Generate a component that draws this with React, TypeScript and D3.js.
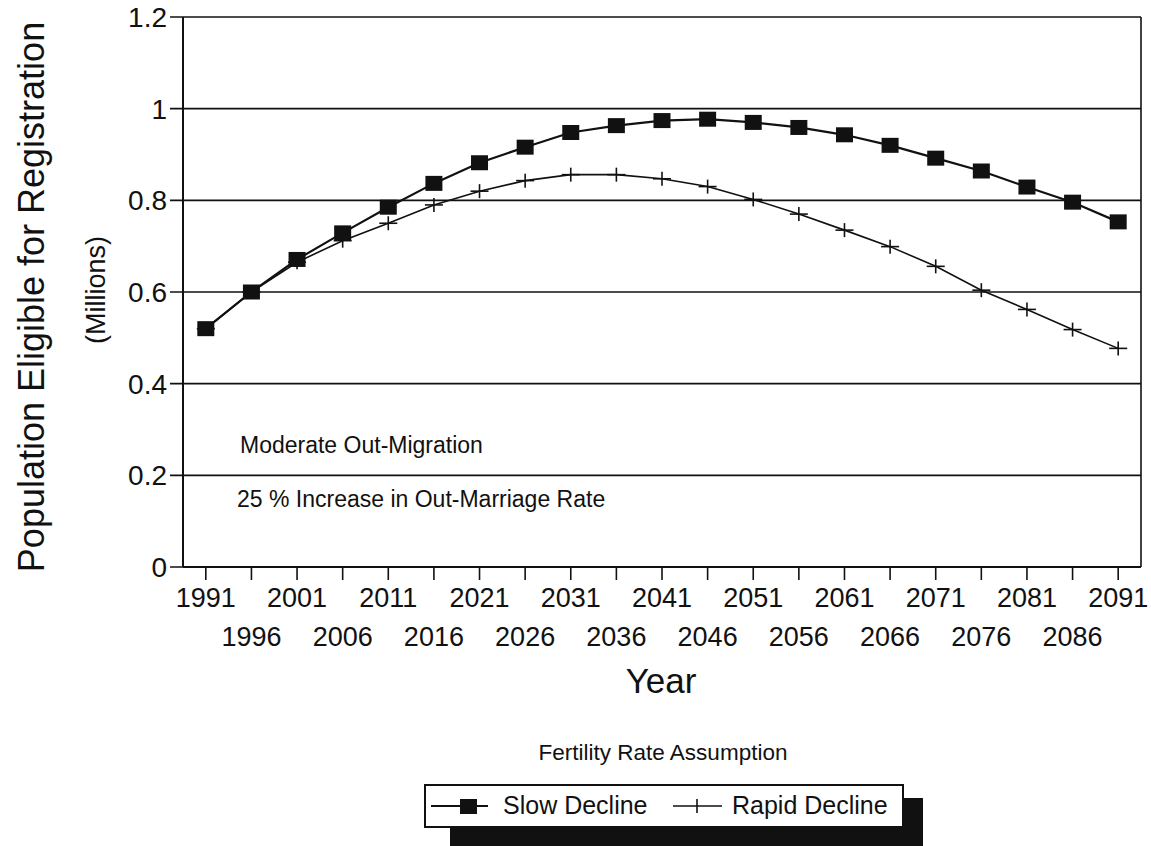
import React from 'react';
import * as d3 from 'd3';

// Years on the x axis (every 5 years)
const years = [
  1991, 1996, 2001, 2006, 2011, 2016, 2021, 2026, 2031, 2036, 2041,
  2046, 2051, 2056, 2061, 2066, 2071, 2076, 2081, 2086, 2091,
];

// Population eligible for registration (millions)
const slowDecline = [
  0.52, 0.6, 0.671, 0.729, 0.785, 0.837, 0.882, 0.916, 0.948, 0.963, 0.974,
  0.977, 0.97, 0.959, 0.943, 0.92, 0.892, 0.864, 0.829, 0.796, 0.753,
];
const rapidDecline = [
  0.52, 0.6, 0.665, 0.712, 0.75, 0.79, 0.82, 0.843, 0.856, 0.856, 0.847,
  0.83, 0.802, 0.77, 0.735, 0.699, 0.656, 0.604, 0.562, 0.518, 0.477,
];

const yTicks = [0, 0.2, 0.4, 0.6, 0.8, 1, 1.2];
const yTickLabels = ['0', '0.2', '0.4', '0.6', '0.8', '1', '1.2'];

const FONT = '"Liberation Sans", Arial, Helvetica, sans-serif';

const W = 1151;
const H = 846;
const plot = { left: 183, right: 1141, top: 17, bottom: 567 };

const App: React.FC = () => {
  const x = d3
    .scalePoint<number>()
    .domain(years)
    .range([plot.left, plot.right])
    .padding(0.5);

  const y = d3.scaleLinear().domain([0, 1.2]).range([plot.bottom, plot.top]);

  const line = d3
    .line<number>()
    .x((_, i) => x(years[i]) as number)
    .y(d => y(d));

  return (
    <svg
      width={W}
      height={H}
      style={{ position: 'absolute', left: 0, top: 0, background: '#fff' }}
      fontFamily={FONT}
    >
      {/* grid lines + y ticks */}
      {yTicks.map((t, i) => (
        <g key={t}>
          <line x1={plot.left - 13} x2={plot.right} y1={y(t)} y2={y(t)} stroke="#111" strokeWidth={1.6} />
          <text x={167} y={y(t)} dy="0.36em" textAnchor="end" fontSize={28} fill="#111">
            {yTickLabels[i]}
          </text>
        </g>
      ))}

      {/* frame */}
      <line x1={plot.left} x2={plot.left} y1={plot.top} y2={plot.bottom} stroke="#111" strokeWidth={2} />
      <line x1={plot.right} x2={plot.right} y1={plot.top} y2={plot.bottom} stroke="#111" strokeWidth={1.6} />
      <line x1={plot.left} x2={plot.right} y1={plot.bottom} y2={plot.bottom} stroke="#111" strokeWidth={2.2} />

      {/* x ticks and staggered labels */}
      {years.map((yr, i) => (
        <g key={yr}>
          <line x1={x(yr)} x2={x(yr)} y1={plot.bottom} y2={plot.bottom + 13} stroke="#111" strokeWidth={1.6} />
          <text
            x={x(yr)}
            y={i % 2 === 0 ? 607 : 646}
            textAnchor="middle"
            fontSize={27}
            fill="#111"
          >
            {yr}
          </text>
        </g>
      ))}

      {/* axis titles */}
      <text x={661} y={693} textAnchor="middle" fontSize={35} fill="#111">Year</text>
      <text
        transform="translate(44,297) rotate(-90)"
        textAnchor="middle"
        fontSize={36}
        fill="#111"
      >
        Population Eligible for Registration
      </text>
      <text
        transform="translate(105,290) rotate(-90)"
        textAnchor="middle"
        fontSize={27}
        fill="#111"
      >
        (Millions)
      </text>

      {/* annotations */}
      <text x={240} y={453} fontSize={23} fill="#111">Moderate Out-Migration</text>
      <text x={237} y={507} fontSize={23} fill="#111">25 % Increase in Out-Marriage Rate</text>

      {/* rapid decline */}
      <path d={line(rapidDecline) || ''} fill="none" stroke="#111" strokeWidth={1.6} />
      {rapidDecline.map((v, i) => (
        <g key={'r' + i} stroke="#111" strokeWidth={1.6}>
          <line x1={(x(years[i]) as number) - 9} x2={(x(years[i]) as number) + 9} y1={y(v)} y2={y(v)} />
          <line x1={x(years[i])} x2={x(years[i])} y1={y(v) - 7} y2={y(v) + 7} />
        </g>
      ))}

      {/* slow decline */}
      <path d={line(slowDecline) || ''} fill="none" stroke="#111" strokeWidth={2.2} />
      {slowDecline.map((v, i) => (
        <rect
          key={'s' + i}
          x={(x(years[i]) as number) - 8.5}
          y={y(v) - 7.5}
          width={17}
          height={15}
          fill="#111"
        />
      ))}

      {/* legend */}
      <text x={663} y={760} textAnchor="middle" fontSize={22.5} fill="#111">Fertility Rate Assumption</text>
      <rect x={450} y={798} width={473} height={50} fill="#111" />
      <rect x={425} y={785} width={478} height={42} fill="#fff" stroke="#111" strokeWidth={2} />
      <line x1={431} x2={488} y1={806} y2={806} stroke="#111" strokeWidth={2.2} />
      <rect x={460} y={799} width={17} height={15} fill="#111" />
      <text x={503} y={814} fontSize={25} fill="#111">Slow Decline</text>
      <line x1={673} x2={722} y1={806} y2={806} stroke="#111" strokeWidth={1.6} />
      <line x1={697} x2={697} y1={799} y2={813} stroke="#111" strokeWidth={1.6} />
      <text x={732} y={814} fontSize={25} fill="#111">Rapid Decline</text>
    </svg>
  );
};

export default App;
